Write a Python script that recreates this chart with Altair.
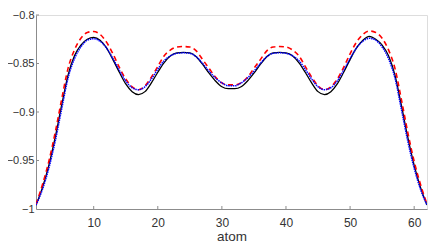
import altair as alt
import pandas as pd

atoms = list(range(1, 63))

black = [-0.996, -0.978, -0.955, -0.926, -0.893, -0.862, -0.842, -0.831, -0.825, -0.823,
         -0.826, -0.834, -0.846, -0.859, -0.871, -0.879, -0.882, -0.879, -0.870, -0.859,
         -0.849, -0.842, -0.839, -0.8385, -0.839, -0.843, -0.851, -0.860, -0.868, -0.874,
         -0.876, -0.876, -0.874, -0.868, -0.860, -0.851, -0.843, -0.839, -0.8385, -0.839,
         -0.842, -0.849, -0.859, -0.870, -0.879, -0.882, -0.879, -0.871, -0.859, -0.846,
         -0.834, -0.826, -0.822, -0.825, -0.831, -0.842, -0.862, -0.893, -0.926, -0.955,
         -0.978, -0.996]

red = [-0.995, -0.975, -0.951, -0.921, -0.887, -0.855, -0.836, -0.824, -0.818, -0.817,
       -0.820, -0.828, -0.840, -0.854, -0.866, -0.874, -0.877, -0.873, -0.864, -0.853,
       -0.842, -0.836, -0.833, -0.8325, -0.833, -0.837, -0.846, -0.855, -0.864, -0.870,
       -0.872, -0.872, -0.870, -0.864, -0.855, -0.846, -0.837, -0.833, -0.8325, -0.833,
       -0.836, -0.842, -0.853, -0.864, -0.873, -0.877, -0.874, -0.866, -0.854, -0.840,
       -0.828, -0.820, -0.8165, -0.818, -0.824, -0.836, -0.855, -0.887, -0.921, -0.951,
       -0.975, -0.995]

blue = [-0.996, -0.980, -0.958, -0.930, -0.897, -0.865, -0.845, -0.833, -0.826, -0.8245,
        -0.827, -0.834, -0.845, -0.857, -0.868, -0.875, -0.877, -0.874, -0.866, -0.856,
        -0.847, -0.842, -0.8395, -0.839, -0.8395, -0.843, -0.850, -0.858, -0.865, -0.870,
        -0.873, -0.873, -0.870, -0.865, -0.858, -0.850, -0.843, -0.8395, -0.839, -0.8395,
        -0.842, -0.847, -0.856, -0.866, -0.874, -0.877, -0.875, -0.868, -0.857, -0.845,
        -0.834, -0.827, -0.824, -0.826, -0.833, -0.845, -0.865, -0.897, -0.930, -0.958,
        -0.980, -0.996]

x_ticks = [10, 20, 30, 40, 50, 60]
y_ticks = [-1, -0.95, -0.9, -0.85, -0.8]

W, H = 391, 194
FONT = "Liberation Sans"
AXIS_COLOR = "#8c8c8c"
LABEL_COLOR = "#333333"

xscale = alt.Scale(domain=[1, 62], nice=False, zero=False)
yscale = alt.Scale(domain=[-1, -0.8], nice=False, zero=False)

def series_df(vals):
    return pd.DataFrame({"atom": atoms, "val": vals})

xaxis = alt.Axis(values=x_ticks, title="atom", tickSize=0, labelPadding=8,
                 grid=False, domainColor=AXIS_COLOR, labelColor=LABEL_COLOR,
                 labelFont=FONT, labelFontSize=12, titleFont=FONT, titleFontSize=13.5,
                 titleFontWeight="normal", titleColor=LABEL_COLOR, titlePadding=1)
yaxis = alt.Axis(values=y_ticks, title=None, tickSize=0, labelPadding=2,
                 grid=False, domainColor=AXIS_COLOR, labelColor=LABEL_COLOR,
                 labelFont=FONT, labelFontSize=11, format="~g")

base_black = alt.Chart(series_df(black)).mark_line(
    color="#000000", strokeWidth=1.3, clip=True, interpolate="monotone"
).encode(
    x=alt.X("atom:Q", scale=xscale, axis=xaxis),
    y=alt.Y("val:Q", scale=yscale, axis=yaxis),
)

line_red = alt.Chart(series_df(red)).mark_line(
    color="#ff0000", strokeWidth=1.6, strokeDash=[5, 3.5], clip=True,
    interpolate="monotone"
).encode(x=alt.X("atom:Q", scale=xscale), y=alt.Y("val:Q", scale=yscale))

line_blue = alt.Chart(series_df(blue)).mark_line(
    color="#0000ff", strokeWidth=1.5, strokeDash=[1.5, 0.8], clip=True,
    interpolate="monotone"
).encode(x=alt.X("atom:Q", scale=xscale), y=alt.Y("val:Q", scale=yscale))

xt = alt.Chart(pd.DataFrame({"t": x_ticks})).mark_rule(
    color=AXIS_COLOR, strokeWidth=1
).encode(x=alt.X("t:Q", scale=xscale), y=alt.value(H), y2=alt.value(H - 3))

yt = alt.Chart(pd.DataFrame({"t": y_ticks[1:]})).mark_rule(
    color=AXIS_COLOR, strokeWidth=1
).encode(y=alt.Y("t:Q", scale=yscale), x=alt.value(0), x2=alt.value(3))

chart = alt.layer(base_black, line_red, line_blue, xt, yt).properties(
    width=W, height=H,
    autosize=alt.AutoSizeParams(type="none"),
    padding={"left": 28, "top": 7, "right": 3, "bottom": 36},
).configure_view(stroke=None).configure(background="white")

chart.save("out.html", embed_options={"renderer": "svg", "actions": False})
